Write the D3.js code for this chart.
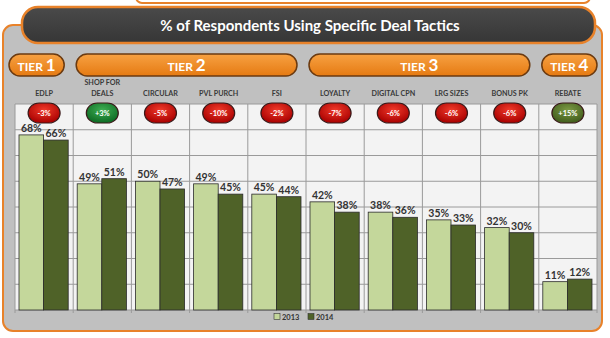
<!DOCTYPE html>
<html>
<head>
<meta charset="utf-8">
<script src="https://cdn.jsdelivr.net/npm/d3@7"></script>
<style>
  body { margin: 0; background: #fff; }
  svg { display: block; font-family: Lato, "Open Sans", sans-serif; }
</style>
</head>
<body>
<svg></svg>
<script>
var width = 610;
var height = 338;

// data
var categories = ["EDLP", "SHOP FOR DEALS", "CIRCULAR", "PVL PURCH", "FSI", "LOYALTY", "DIGITAL CPN", "LRG SIZES", "BONUS PK", "REBATE"];
var years = ["2013", "2014"];
var values2013 = [68, 49, 50, 49, 45, 42, 38, 35, 32, 11];
var values2014 = [66, 51, 47, 45, 44, 38, 36, 33, 30, 12];
var changes = ["-3%", "+3%", "-5%", "-10%", "-2%", "-7%", "-6%", "-6%", "-6%", "+15%"];
var tierNames = ["1", "2", "3", "4"];
var tierFirst = [0, 1, 5, 9];
var tierLast = [0, 4, 8, 9];
var yTicks = [0, 10, 20, 30, 40, 50, 60, 70, 80];

var svg = d3.select("svg")
    .attr("width", width)
    .attr("height", height);

var defs = svg.append("defs");

var og = defs.append("linearGradient").attr("id", "orange").attr("x1", 0).attr("y1", 0).attr("x2", 0).attr("y2", 1);
og.append("stop").attr("offset", "0%").attr("stop-color", "#f7a142");
og.append("stop").attr("offset", "100%").attr("stop-color", "#e57a12");

var tg = defs.append("linearGradient").attr("id", "titlebg").attr("x1", 0).attr("y1", 0).attr("x2", 0).attr("y2", 1);
tg.append("stop").attr("offset", "0%").attr("stop-color", "#4a4a4a");
tg.append("stop").attr("offset", "100%").attr("stop-color", "#363636");

function badgeGrad(id, light, dark) {
    var g = defs.append("radialGradient").attr("id", id).attr("cx", "50%").attr("cy", "35%").attr("r", "65%");
    g.append("stop").attr("offset", "0%").attr("stop-color", light);
    g.append("stop").attr("offset", "100%").attr("stop-color", dark);
}
badgeGrad("bred", "#f03a2a", "#a80000");
badgeGrad("bgreen", "#3fae52", "#0d6a24");
badgeGrad("bolive", "#7c9a44", "#415c1c");

// top hint of a box above
svg.append("rect")
    .attr("x", 136).attr("y", -12).attr("width", 454).attr("height", 15)
    .attr("rx", 6)
    .attr("fill", "#fff").attr("stroke", "#e8822a").attr("stroke-width", 2);

// grey panel
svg.append("rect")
    .attr("x", 3).attr("y", 25).attr("width", 599).attr("height", 306)
    .attr("rx", 10)
    .attr("fill", "#c0c0c0").attr("stroke", "#e8822a").attr("stroke-width", 2);

// title bar
svg.append("rect")
    .attr("x", 22).attr("y", 7).attr("width", 573).attr("height", 36)
    .attr("rx", 16)
    .attr("fill", "url(#titlebg)").attr("stroke", "#e8822a").attr("stroke-width", 2.5);

svg.append("text")
    .attr("x", 310).attr("y", 31)
    .attr("text-anchor", "middle")
    .attr("fill", "#fff")
    .attr("font-size", 15)
    .attr("font-weight", "bold")
    .text("% of Respondents Using Specific Deal Tactics");

var plot = { left: 15, right: 597, top: 104, bottom: 310 };

var x = d3.scaleBand()
    .domain(categories)
    .range([plot.left, plot.right]);

var x1 = d3.scaleBand()
    .domain(years)
    .range([4, x.bandwidth() - 5]);

var y = d3.scaleLinear()
    .domain([0, 80])
    .range([plot.bottom, plot.top]);

// plot background
svg.append("rect")
    .attr("x", plot.left).attr("y", plot.top)
    .attr("width", plot.right - plot.left).attr("height", plot.bottom - plot.top)
    .attr("fill", "#f3f3f3");

svg.append("g")
    .selectAll("line")
    .data(yTicks)
    .enter()
    .append("line")
    .attr("x1", plot.left).attr("x2", plot.right)
    .attr("y1", function (d) { return y(d); })
    .attr("y2", function (d) { return y(d); })
    .attr("stroke", "#9a9a9a").attr("stroke-width", 1);

svg.append("g")
    .selectAll("line")
    .data(categories.concat(["end"]))
    .enter()
    .append("line")
    .attr("x1", function (d, i) { return plot.left + i * x.bandwidth(); })
    .attr("x2", function (d, i) { return plot.left + i * x.bandwidth(); })
    .attr("y1", plot.top).attr("y2", plot.bottom + 3)
    .attr("stroke", "#9a9a9a").attr("stroke-width", 1);

// tier pills
var tiers = svg.append("g")
    .selectAll("g")
    .data(tierNames)
    .enter()
    .append("g");

function tierLeft(i) { return tierFirst[i] === 0 ? 9 : x(categories[tierFirst[i]]) + 3; }
function tierRight(i) {
    return tierLast[i] === categories.length - 1 ? plot.right : x(categories[tierLast[i]]) + x.bandwidth() - 9;
}

tiers.append("rect")
    .attr("x", function (d, i) { return tierLeft(i); })
    .attr("y", 54)
    .attr("width", function (d, i) { return tierRight(i) - tierLeft(i); })
    .attr("height", 22)
    .attr("rx", 11)
    .attr("fill", "url(#orange)")
    .attr("stroke", "#6b3a10").attr("stroke-width", 1.5);

var tierText = tiers.append("text")
    .attr("x", function (d, i) { return (tierLeft(i) + tierRight(i)) / 2; })
    .attr("y", 71)
    .attr("text-anchor", "middle")
    .attr("fill", "#fff")
    .attr("font-weight", "bold");
tierText.append("tspan").attr("font-size", 12).text("TIER ");
tierText.append("tspan").attr("font-size", 17).text(function (d) { return d; });

// category labels
var cat = svg.append("g")
    .selectAll("text")
    .data(categories)
    .enter()
    .append("text")
    .attr("x", function (d) { return x(d) + x.bandwidth() / 2; })
    .attr("y", 96)
    .attr("text-anchor", "middle")
    .attr("fill", "#3a3a3a")
    .attr("font-size", 7.2)
    .attr("font-weight", "bold");

cat.each(function (d) {
    var t = d3.select(this);
    if (d === "SHOP FOR DEALS") {
        t.append("tspan").attr("x", x(d) + x.bandwidth() / 2).attr("dy", -11).text("SHOP FOR");
        t.append("tspan").attr("x", x(d) + x.bandwidth() / 2).attr("dy", 11).text("DEALS");
    } else {
        t.text(d);
    }
});

// change badges
var badges = svg.append("g")
    .selectAll("g")
    .data(categories)
    .enter()
    .append("g")
    .attr("transform", function (d) { return "translate(" + (x(d) + x.bandwidth() / 2) + ",113)"; });

badges.append("rect")
    .attr("x", -16).attr("y", -10)
    .attr("width", 32).attr("height", 20)
    .attr("rx", 11)
    .attr("fill", function (d, i) {
        if (changes[i] === "+15%") return "url(#bolive)";
        return changes[i][0] === "+" ? "url(#bgreen)" : "url(#bred)";
    })
    .attr("stroke", "#3a1a1a").attr("stroke-width", 1.2);

badges.append("text")
    .attr("y", 3)
    .attr("text-anchor", "middle")
    .attr("fill", "#fff")
    .attr("font-size", 7.5)
    .attr("font-weight", "bold")
    .text(function (d, i) { return changes[i]; });

// bars
var rows = categories.map(function (c, i) {
    return [
        { cat: c, year: "2013", value: values2013[i] },
        { cat: c, year: "2014", value: values2014[i] }
    ];
});

var colors = d3.scaleOrdinal(years, ["#c4d79b", "#4f6228"]);

var groups = svg.append("g")
    .selectAll("g")
    .data(rows)
    .enter()
    .append("g")
    .attr("transform", function (d) { return "translate(" + x(d[0].cat) + ",0)"; });

groups.selectAll("rect")
    .data(function (d) { return d; })
    .enter()
    .append("rect")
    .attr("x", function (d) { return x1(d.year); })
    .attr("y", function (d) { return y(d.value); })
    .attr("width", x1.bandwidth())
    .attr("height", function (d) { return y(0) - y(d.value); })
    .attr("fill", function (d) { return colors(d.year); })
    .attr("stroke", "#2b2b2b").attr("stroke-width", 0.8);

groups.selectAll("text")
    .data(function (d) { return d; })
    .enter()
    .append("text")
    .attr("x", function (d) { return x1(d.year) + x1.bandwidth() / 2; })
    .attr("y", function (d) { return y(d.value) - 3; })
    .attr("text-anchor", "middle")
    .attr("fill", "#333")
    .attr("font-size", 10.5)
    .attr("font-weight", "bold")
    .text(function (d) { return d.value + "%"; });

// legend
var legend = svg.append("g")
    .selectAll("g")
    .data(years)
    .enter()
    .append("g")
    .attr("transform", function (d, i) { return "translate(" + (274 + i * 34) + ",317)"; });

legend.append("rect")
    .attr("x", 0).attr("y", -3.5)
    .attr("width", 6).attr("height", 6)
    .attr("fill", function (d) { return colors(d); })
    .attr("stroke", "#333").attr("stroke-width", 0.6);

legend.append("text")
    .attr("x", 8).attr("y", 2.5)
    .attr("fill", "#333")
    .attr("font-size", 7.5)
    .attr("font-weight", "bold")
    .text(function (d) { return d; });
</script>
</body>
</html>
